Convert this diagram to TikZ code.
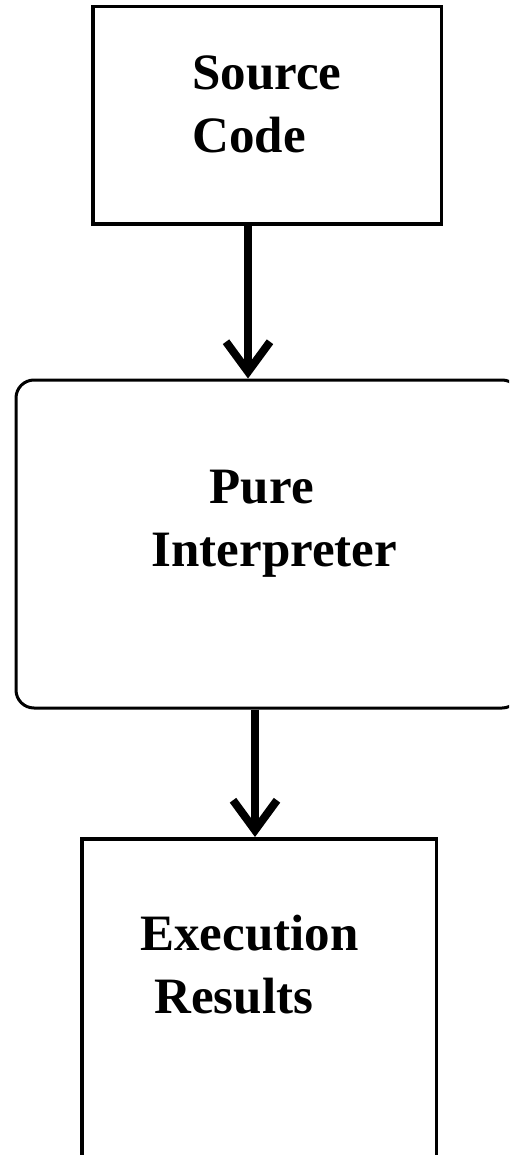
\documentclass[tikz,border=0pt]{standalone}
\usepackage{fontspec}
\setmainfont{Liberation Serif}
\usetikzlibrary{arrows.meta}
\usetikzlibrary{positioning}

\begin{document}
\begin{tikzpicture}[x=1pt, y=-1pt,
	codebox/.style={rectangle, draw, line width=3.5pt, inner sep=0pt},
	boxtext/.style={font=\fontsize{51}{63}\selectfont\bfseries, align=left, inner sep=0pt},
	flowarrow/.style={line width=8pt, -{Straight Barb[length=30pt, width=44pt]}}]
	\useasboundingbox (0,0) rectangle (509,1155);
	\clip (0,0) rectangle (509,1155);

	% --- Boxes ---
	% Source
	\node[codebox, minimum width=348.5pt, minimum height=217.5pt] (src) at (267, 115.5) {};
	\node[boxtext] (srctext) at (267, 104) {Source\\Code};

	% Interpreter
	\node[rectangle, draw, line width=3pt, rounded corners=18pt, minimum width=504pt, minimum height=328pt] (interp) at (268, 544) {};
	\node[boxtext] (interptext) at (274.5, 524) {\hspace{58pt}Pure\\Interpreter};

	% Results
	\node[codebox, minimum width=354.5pt, minimum height=420pt] (res) at (259, 1048.75) {};
	\node[boxtext] (restext) at (249.5, 965) {Execution\\\hspace{14pt}Results};

	% --- Arrows ---
	\draw[flowarrow] ([xshift=-19pt]src.south) -- ([xshift=-19pt]src.south |- interp.north);
	\draw[flowarrow] ([xshift=-13pt]interp.south) -- ([xshift=-13pt]interp.south |- res.north);

\end{tikzpicture}
\end{document}
